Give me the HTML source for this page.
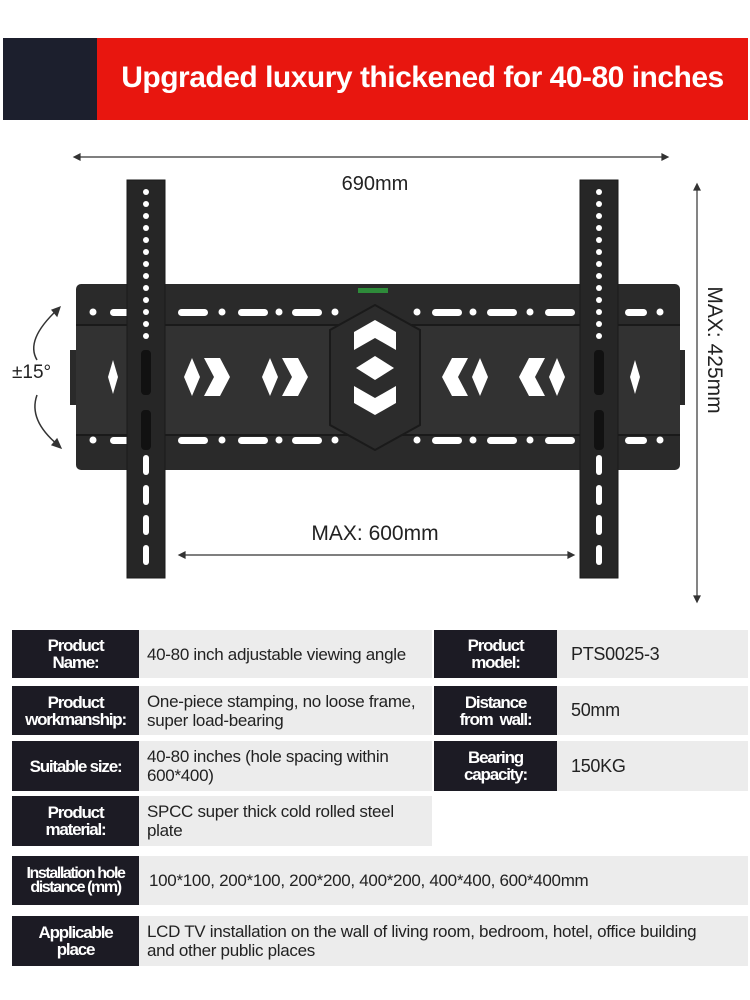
<!DOCTYPE html>
<html><head><meta charset="utf-8"><style>
*{margin:0;padding:0;box-sizing:border-box}
body{width:750px;height:1000px;background:#fff;position:relative;overflow:hidden;font-family:"Liberation Sans",sans-serif}
.a{position:absolute}
.lab{position:absolute;background:#1c1b24;color:#fff;font-weight:bold;font-size:17px;line-height:17px;text-align:center;display:flex;align-items:center;justify-content:center;letter-spacing:-1.2px;white-space:nowrap}
.val{position:absolute;background:#ececec;color:#222;font-size:17px;line-height:19px;display:flex;align-items:center;padding-left:8px;letter-spacing:-0.3px;white-space:nowrap}
</style></head><body>
<div class="a" style="left:3px;top:38px;width:94px;height:82px;background:#1c1f2d"></div>
<div class="a" style="left:97px;top:38px;width:651px;height:82px;background:#e8160f;color:#fff;font-weight:bold;font-size:30px;line-height:80px;text-align:center;letter-spacing:-0.5px">Upgraded luxury thickened for 40-80 inches</div>

<svg class="a" style="left:0;top:140px" width="750" height="470" viewBox="0 140 750 470">
<g stroke="#333" stroke-width="1.2" fill="#333">
<line x1="78" y1="157" x2="664" y2="157"/><polygon points="74,157 80,154 80,160"/><polygon points="668,157 662,154 662,160"/>
<line x1="697" y1="188" x2="697" y2="598"/><polygon points="697,184 694,190 700,190"/><polygon points="697,602 694,596 700,596"/>
<line x1="183" y1="555" x2="570" y2="555"/><polygon points="179,555 185,552 185,558"/><polygon points="574,555 568,552 568,558"/>
<path d="M57,310 Q25,340 37,360" fill="none" stroke-width="1.5"/><polygon points="60,307 52,310 57,316"/>
<path d="M37,395 Q28,420 58,445" fill="none" stroke-width="1.5"/><polygon points="61,448 52,445 57,439"/>
</g>
<text x="375" y="190" font-size="20" text-anchor="middle" fill="#222" font-family="Liberation Sans">690mm</text>
<text x="375" y="540" font-size="21" text-anchor="middle" fill="#222" font-family="Liberation Sans">MAX: 600mm</text>
<text x="12" y="378" font-size="19" fill="#222" font-family="Liberation Sans">±15°</text>
<text transform="translate(708,350) rotate(90)" font-size="21" text-anchor="middle" fill="#222" font-family="Liberation Sans">MAX: 425mm</text>
<rect x="76" y="284" width="604" height="186" rx="5" fill="#2a2a2a"/>
<rect x="70" y="350" width="8" height="55" fill="#2a2a2a"/><rect x="677" y="350" width="8" height="55" fill="#2a2a2a"/>
<rect x="76" y="325" width="604" height="110" fill="#323232"/>
<line x1="76" y1="325" x2="680" y2="325" stroke="#1a1a1a" stroke-width="2"/>
<line x1="76" y1="435" x2="680" y2="435" stroke="#1a1a1a" stroke-width="2"/>
<polygon points="330,330 375,305 420,330 420,425 375,450 330,425" fill="#2c2c2c" stroke="#1a1a1a" stroke-width="2"/>
<rect x="358" y="288" width="30" height="5" fill="#2e8b3a"/>
<g fill="#fff">
<g id="hr"><circle cx="93" cy="312" r="3.5"/><rect x="110" y="309" width="22" height="7" rx="3.5"/><rect x="178" y="309" width="30" height="7" rx="3.5"/><circle cx="222" cy="312" r="3.5"/><rect x="238" y="309" width="30" height="7" rx="3.5"/><circle cx="279" cy="312" r="3.5"/><rect x="292" y="309" width="30" height="7" rx="3.5"/><circle cx="335" cy="312" r="3.5"/>
<circle cx="417" cy="312" r="3.5"/><rect x="432" y="309" width="30" height="7" rx="3.5"/><circle cx="473" cy="312" r="3.5"/><rect x="487" y="309" width="30" height="7" rx="3.5"/><circle cx="530" cy="312" r="3.5"/><rect x="545" y="309" width="30" height="7" rx="3.5"/><rect x="625" y="309" width="22" height="7" rx="3.5"/><circle cx="660" cy="312" r="3.5"/></g>
<use href="#hr" y="128"/>
<polygon points="184,377 192,358 200,377 192,396"/><polygon points="204,358 220,358 230,377 220,396 204,396 214,377"/>
<polygon points="262,377 270,358 278,377 270,396"/><polygon points="282,358 298,358 308,377 298,396 282,396 292,377"/>
<polygon points="565,377 557,358 549,377 557,396"/><polygon points="545,358 529,358 519,377 529,396 545,396 535,377"/>
<polygon points="488,377 480,358 472,377 480,396"/><polygon points="468,358 452,358 442,377 452,396 468,396 458,377"/>
<polygon points="354,332 375,320 396,332 396,350 375,338 354,350"/>
<polygon points="356,368 375,356 394,368 375,380"/>
<polygon points="354,386 375,398 396,386 396,403 375,415 354,403"/>
<polygon points="108,377 113,360 118,377 113,394"/><polygon points="640,377 635,360 630,377 635,394"/>
</g>
<g id="rail">
<rect x="127" y="180" width="38" height="398" fill="#262626" stroke="#1a1a1a"/>
<g fill="#fff"><circle cx="146" cy="192" r="3"/><circle cx="146" cy="204" r="3"/><circle cx="146" cy="216" r="3"/><circle cx="146" cy="228" r="3"/><circle cx="146" cy="240" r="3"/><circle cx="146" cy="252" r="3"/><circle cx="146" cy="264" r="3"/><circle cx="146" cy="276" r="3"/><circle cx="146" cy="288" r="3"/><circle cx="146" cy="300" r="3"/><circle cx="146" cy="312" r="3"/><circle cx="146" cy="324" r="3"/><circle cx="146" cy="336" r="3"/>
<rect x="143" y="455" width="6" height="20" rx="3"/><rect x="143" y="485" width="6" height="20" rx="3"/><rect x="143" y="515" width="6" height="20" rx="3"/><rect x="143" y="545" width="6" height="20" rx="3"/></g>
<rect x="141" y="350" width="10" height="45" rx="4" fill="#111"/><rect x="141" y="410" width="10" height="40" rx="4" fill="#111"/>
</g>
<use href="#rail" x="453"/>
</svg>

<div class="lab" style="left:12px;top:630px;width:127px;height:48px">Product<br>Name:</div>
<div class="val" style="left:139px;top:630px;width:293px;height:48px">40-80 inch adjustable viewing angle</div>
<div class="lab" style="left:434px;top:630px;width:123px;height:48px">Product<br>model:</div>
<div class="val" style="left:557px;top:630px;width:191px;height:48px;font-size:18px;padding-left:14px">PTS0025-3</div>

<div class="lab" style="left:12px;top:686px;width:127px;height:49px">Product<br>workmanship:</div>
<div class="val" style="left:139px;top:686px;width:293px;height:49px">One-piece stamping, no loose frame,<br>super load-bearing</div>
<div class="lab" style="left:434px;top:686px;width:123px;height:49px">Distance<br>from&nbsp; wall:</div>
<div class="val" style="left:557px;top:686px;width:191px;height:49px;font-size:18px;padding-left:14px">50mm</div>

<div class="lab" style="left:12px;top:741px;width:127px;height:50px">Suitable size:</div>
<div class="val" style="left:139px;top:741px;width:293px;height:50px">40-80 inches (hole spacing within<br>600*400)</div>
<div class="lab" style="left:434px;top:741px;width:123px;height:50px">Bearing<br>capacity:</div>
<div class="val" style="left:557px;top:741px;width:191px;height:50px;font-size:18px;padding-left:14px">150KG</div>

<div class="lab" style="left:12px;top:796px;width:127px;height:50px">Product<br>material:</div>
<div class="val" style="left:139px;top:796px;width:293px;height:50px">SPCC super thick cold rolled steel<br>plate</div>

<div class="lab" style="left:12px;top:856px;width:127px;height:49px;font-size:16px;line-height:14px;letter-spacing:-1.4px">Installation hole<br>distance (mm)</div>
<div class="val" style="left:139px;top:856px;width:609px;height:49px;padding-left:10px">100*100, 200*100, 200*200, 400*200, 400*400, 600*400mm</div>

<div class="lab" style="left:12px;top:916px;width:127px;height:50px">Applicable<br>place</div>
<div class="val" style="left:139px;top:916px;width:609px;height:50px">LCD TV installation on the wall of living room, bedroom, hotel, office building<br>and other public places</div>
</body></html>
